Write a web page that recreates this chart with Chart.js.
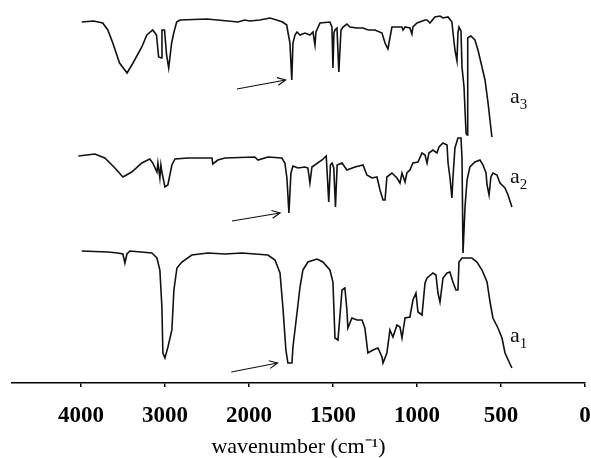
<!DOCTYPE html>
<html>
<head>
<meta charset="utf-8">
<script src="https://cdn.jsdelivr.net/npm/chart.js@4.4.0/dist/chart.umd.min.js"></script>
<style>
  html, body { margin: 0; padding: 0; background: #fff; }
  #wrap { width: 591px; height: 458px; position: relative; }
</style>
</head>
<body>
<div id="wrap"><canvas id="c"></canvas></div>
<script>
// ---- data (wavenumber in cm-1, relative transmittance in arbitrary offset units) ----
const tickLabels = ['4000', '3000', '2000', '1500', '1000', '500', '0'];
const tickWavenumbers = [4000, 3000, 2000, 1500, 1000, 500, 0];

const wnA3 = [3990,3850,3740,3680,3620,3540,3450,3380,3275,3215,3145,3100,3075,3040,3035,3005,2980,2955,2920,2895,2860,2820,2500,2250,2130,2050,1995,1935,1875,1835,1800,1775,1768,1756,1745,1738,1726,1714,1696,1667,1637,1619,1607,1601,1577,1518,1506,1500,1494,1488,1476,1465,1452,1440,1417,1399,1357,1321,1290,1250,1208,1190,1173,1161,1149,1090,1083,1071,1042,1030,1024,1000,952,940,923,893,863,845,815,792,786,774,762,756,750,738,732,720,708,702,698,690,679,655,637,613,595,577,554];
const valA3 = [361,362,360,353,340,320,310,320,336,348,353,348,326,325,353,353,328,315,340,350,361,363,364,362,361,363,362,363,365,363,361,358,351,340,303,340,348,351,348,350,348,351,338,351,360,361,356,315,350,353,355,311,353,356,359,356,355,355,353,353,350,340,334,345,356,356,353,356,355,349,356,360,363,363,360,366,367,365,366,361,351,333,322,350,356,352,316,296,250,248,345,346,347,343,333,316,303,280,246];

const wnA2 = [4030,3835,3715,3595,3500,3395,3275,3180,3145,3095,3083,3060,3048,3036,3000,2965,2917,2880,2725,2440,2430,2370,2285,1965,1946,1887,1804,1786,1774,1762,1750,1738,1708,1667,1649,1637,1625,1565,1540,1525,1515,1505,1495,1485,1475,1446,1417,1369,1321,1298,1268,1238,1220,1202,1190,1179,1149,1119,1101,1089,1071,1060,1042,1024,994,970,952,940,929,905,881,869,845,821,815,804,792,786,774,756,738,732,726,714,702,685,655,625,607,589,583,571,560,548,524,506,476,458,435];
const valA2 = [227,229,225,215,206,211,220,224,220,211,220,205,218,211,196,198,218,224,225,225,219,223,225,226,223,226,225,220,205,170,210,217,215,216,215,200,216,223,227,181,218,220,215,176,218,220,213,216,218,208,205,206,193,183,183,206,210,205,200,210,201,210,213,220,221,230,228,220,230,233,230,236,240,238,220,206,185,205,235,245,245,225,130,176,203,216,221,223,218,210,198,188,206,210,208,200,195,188,176];

const wnA1 = [3990,3680,3560,3500,3476,3452,3417,3155,3095,3060,3036,3024,3000,2964,2917,2893,2857,2798,2680,2490,2285,2083,1887,1845,1815,1798,1780,1768,1744,1738,1714,1696,1679,1649,1595,1560,1518,1500,1488,1470,1446,1429,1417,1411,1387,1357,1327,1310,1292,1262,1232,1208,1202,1179,1161,1143,1119,1101,1089,1071,1042,1024,1006,994,970,952,940,905,887,875,863,845,821,804,786,768,756,750,732,673,643,613,583,565,548,518,494,476,435];
const valA1 = [132,131,130,129,120,129,132,130,125,113,76,30,25,36,53,93,115,121,128,130,129,130,128,123,110,76,33,20,20,36,70,96,113,121,124,121,113,101,45,43,93,95,73,55,65,63,63,55,30,33,35,26,20,30,53,46,58,56,45,65,66,83,90,71,68,100,105,110,108,90,81,105,110,111,101,93,93,121,125,125,121,113,101,81,65,55,45,30,15];

// ---- annotation layout (not data) ----
const arrows = [
  { from: [2143, 294], to: [1782, 303] },
  { from: [2202, 162], to: [1815, 170] },
  { from: [2210, 11],  to: [1830, 20] }
];
const seriesLabels = [
  { main: 'a', sub: '3', at: [446, 280] },
  { main: 'a', sub: '2', at: [446, 200] },
  { main: 'a', sub: '1', at: [446, 41] }
];

// piecewise FTIR wavenumber axis: 4000-2000 compressed, 2000-0 expanded
function toT(wn) { return wn >= 2000 ? (4000 - wn) / 1000 : 2 + (2000 - wn) / 500; }
function series(wns, vals) { return wns.map((w, i) => ({ x: toT(w), y: vals[i] })); }

const tickPositions = tickWavenumbers.map(toT);

const annot = {
  id: 'annot',
  afterDatasetsDraw(chart) {
    const { ctx, scales: { x, y } } = chart;
    ctx.save();
    ctx.strokeStyle = '#111';
    ctx.lineWidth = 1.2;
    arrows.forEach(a => {
      const x1 = x.getPixelForValue(toT(a.from[0])), y1 = y.getPixelForValue(a.from[1]);
      const x2 = x.getPixelForValue(toT(a.to[0])), y2 = y.getPixelForValue(a.to[1]);
      ctx.beginPath(); ctx.moveTo(x1, y1); ctx.lineTo(x2, y2); ctx.stroke();
      const ang = Math.atan2(y2 - y1, x2 - x1), L = 9;
      ctx.beginPath();
      ctx.moveTo(x2 - L * Math.cos(ang - 0.45), y2 - L * Math.sin(ang - 0.45));
      ctx.lineTo(x2, y2);
      ctx.lineTo(x2 - L * Math.cos(ang + 0.45), y2 - L * Math.sin(ang + 0.45));
      ctx.stroke();
    });
    ctx.fillStyle = '#111';
    ctx.textBaseline = 'alphabetic';
    ctx.textAlign = 'left';
    seriesLabels.forEach(l => {
      const px = x.getPixelForValue(toT(l.at[0])), py = y.getPixelForValue(l.at[1]);
      ctx.font = '22px "Liberation Serif"';
      ctx.fillText(l.main, px, py);
      const w = ctx.measureText(l.main).width;
      ctx.font = '15px "Liberation Serif"';
      ctx.fillText(l.sub, px + w, py + 6);
    });
    ctx.restore();
  }
};

const ds = (d) => ({ data: d, borderColor: '#111', borderWidth: 1.6, pointRadius: 0, tension: 0, fill: false });

new Chart(document.getElementById('c'), {
  type: 'line',
  data: {
    datasets: [ds(series(wnA3, valA3)), ds(series(wnA2, valA2)), ds(series(wnA1, valA1))]
  },
  options: {
    responsive: true,
    maintainAspectRatio: false,
    animation: false,
    layout: { padding: { left: 12, right: 6, top: 0, bottom: 0 } },
    plugins: { legend: { display: false }, tooltip: { enabled: false } },
    scales: {
      x: {
        type: 'linear',
        min: -0.82,
        max: 6,
        afterBuildTicks(scale) { scale.ticks = tickPositions.map(v => ({ value: v })); },
        afterFit(scale) { scale.height = 75; scale.paddingLeft = 0; scale.paddingRight = 0; },
        ticks: {
          autoSkip: false,
          maxRotation: 0,
          padding: 15,
          color: '#000',
          font: { family: '"Liberation Serif"', size: 23, weight: 'bold' },
          callback(value) { const i = tickPositions.indexOf(value); return i >= 0 ? tickLabels[i] : ''; }
        },
        grid: { drawOnChartArea: false, drawTicks: true, tickLength: 4, color: '#000', lineWidth: 1.5 },
        border: { display: true, color: '#000', width: 1.5 },
        title: {
          display: true,
          text: 'wavenumber (cm\u207B\u00B9)',
          color: '#000',
          font: { family: '"Liberation Serif"', size: 22 },
          padding: { top: 0, bottom: -2 }
        }
      },
      y: {
        display: false,
        min: 0,
        max: 383
      }
    }
  },
  plugins: [annot]
});
</script>
</body>
</html>
